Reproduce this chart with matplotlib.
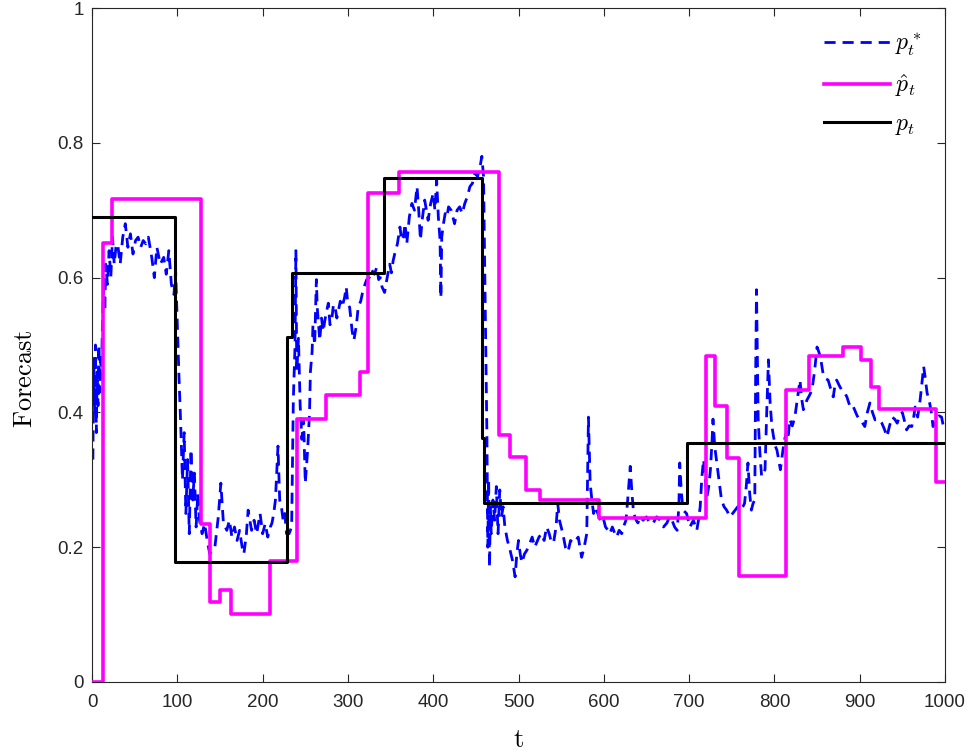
import matplotlib.pyplot as plt

plt.rcParams['font.family'] = ['Liberation Sans', 'DejaVu Sans']
plt.rcParams['mathtext.fontset'] = 'cm'

# p_t (true step signal): breakpoints and levels
true_t = [1, 97, 228, 235, 342, 457, 460, 697, 1000]
true_v = [0.690, 0.178, 0.512, 0.607, 0.748, 0.362, 0.265, 0.354, 0.354]

# p-hat_t (estimated step forecast)
hat_t = [1, 13, 23, 128, 138, 150, 163, 209, 240, 274, 314, 324, 360, 477, 490,
         509, 525, 594, 720, 730, 744, 759, 814, 841, 880, 902, 913, 923, 989, 1000]
hat_v = [0.0, 0.651, 0.716, 0.234, 0.119, 0.136, 0.101, 0.179, 0.390, 0.426, 0.460,
         0.725, 0.757, 0.366, 0.334, 0.285, 0.270, 0.243, 0.484, 0.409, 0.332, 0.157,
         0.433, 0.484, 0.497, 0.478, 0.438, 0.405, 0.297, 0.297]

# p*_t (noisy forecast)
star_t = [1, 2, 3, 4, 5, 6, 7, 8, 9, 10, 11, 12, 13, 14, 15, 16, 18, 20, 22, 24, 26, 28,
          30, 33, 36, 39, 42, 45, 48, 51, 54, 57, 60, 63, 66, 70, 73, 76, 80, 84, 87, 90,
          93, 96, 98, 100, 102, 104, 106, 108, 110, 112, 114, 116, 118, 120, 122, 124,
          126, 129, 132, 135, 138, 141, 144, 148, 151, 154, 158, 161, 164, 167, 170, 173,
          176, 178, 181, 183, 187, 190, 193, 197, 200, 203, 206, 209, 211, 213, 215, 218,
          220, 222, 224, 226, 228, 231, 234, 236, 238, 239, 240, 242, 244, 246, 248, 250,
          252, 253, 255, 256, 258, 259, 261, 263, 264, 267, 269, 271, 273, 275, 277, 279,
          281, 283, 285, 287, 289, 291, 293, 296, 298, 300, 302, 305, 307, 310, 312, 315,
          317, 320, 322, 325, 328, 331, 334, 336, 338, 340, 343, 346, 349, 351, 353, 355,
          358, 361, 363, 365, 367, 369, 372, 375, 378, 381, 383, 385, 387, 390, 392, 394,
          397, 400, 402, 404, 406, 408, 409, 410, 412, 414, 416, 418, 421, 423, 425, 428,
          431, 434, 437, 440, 443, 446, 449, 452, 455, 457, 459, 461, 463, 464, 465, 466,
          467, 468, 470, 472, 474, 476, 478, 480, 482, 484, 487, 490, 493, 496, 498, 500,
          502, 504, 507, 510, 513, 516, 519, 521, 524, 527, 530, 533, 536, 538, 541, 544,
          546, 548, 550, 552, 555, 558, 561, 564, 567, 570, 572, 574, 577, 580, 582, 584,
          586, 588, 590, 593, 596, 599, 602, 605, 607, 610, 613, 615, 618, 621, 623, 626,
          628, 631, 633, 635, 638, 640, 643, 646, 650, 654, 658, 662, 666, 670, 674, 677,
          680, 683, 686, 688, 689, 691, 693, 697, 701, 705, 709, 711, 713, 715, 717, 719,
          721, 723, 725, 727, 728, 730, 732, 734, 736, 738, 741, 744, 746, 748, 751, 754,
          757, 760, 763, 765, 767, 769, 771, 773, 775, 777, 778, 779, 780, 781, 783, 785,
          787, 789, 791, 793, 795, 797, 799, 801, 803, 805, 807, 810, 812, 814, 816, 818,
          821, 824, 827, 830, 832, 834, 836, 838, 841, 844, 847, 850, 852, 854, 857, 860,
          863, 866, 869, 871, 873, 876, 879, 882, 885, 887, 889, 892, 894, 897, 900, 903,
          906, 909, 912, 915, 918, 922, 926, 929, 932, 935, 938, 941, 944, 947, 950, 953,
          955, 958, 961, 963, 965, 968, 971, 973, 975, 977, 979, 982, 984, 986, 988, 990,
          993, 996, 998, 1000]
star_v = [0.33, 0.48, 0.40, 0.50, 0.37, 0.46, 0.41, 0.50, 0.43, 0.48, 0.45, 0.52, 0.57,
          0.60, 0.55, 0.62, 0.59, 0.64, 0.60, 0.66, 0.62, 0.645, 0.65, 0.62, 0.66, 0.68,
          0.645, 0.665, 0.635, 0.655, 0.66, 0.645, 0.655, 0.65, 0.66, 0.63, 0.60, 0.645,
          0.62, 0.63, 0.605, 0.64, 0.59, 0.575, 0.61, 0.53, 0.45, 0.38, 0.30, 0.37, 0.25,
          0.33, 0.22, 0.345, 0.27, 0.31, 0.23, 0.28, 0.24, 0.22, 0.235, 0.21, 0.19, 0.195,
          0.20, 0.245, 0.295, 0.236, 0.225, 0.24, 0.215, 0.23, 0.21, 0.225, 0.20, 0.19,
          0.22, 0.255, 0.225, 0.24, 0.22, 0.25, 0.22, 0.235, 0.215, 0.23, 0.236, 0.25,
          0.27, 0.35, 0.27, 0.26, 0.24, 0.25, 0.22, 0.22, 0.23, 0.42, 0.50, 0.64, 0.46,
          0.51, 0.41, 0.36, 0.39, 0.295, 0.33, 0.35, 0.40, 0.46, 0.49, 0.53, 0.50, 0.597,
          0.556, 0.507, 0.54, 0.52, 0.537, 0.55, 0.562, 0.53, 0.537, 0.56, 0.556, 0.54,
          0.552, 0.565, 0.556, 0.57, 0.586, 0.56, 0.556, 0.52, 0.507, 0.53, 0.556, 0.565,
          0.577, 0.59, 0.597, 0.60, 0.611, 0.605, 0.616, 0.597, 0.60, 0.586, 0.578, 0.60,
          0.62, 0.607, 0.625, 0.636, 0.65, 0.675, 0.655, 0.66, 0.68, 0.65, 0.69, 0.71,
          0.70, 0.735, 0.70, 0.656, 0.685, 0.715, 0.70, 0.685, 0.71, 0.725, 0.70, 0.745,
          0.69, 0.656, 0.57, 0.66, 0.68, 0.695, 0.69, 0.705, 0.70, 0.69, 0.68, 0.70,
          0.705, 0.695, 0.71, 0.72, 0.735, 0.74, 0.755, 0.75, 0.765, 0.78, 0.75, 0.55,
          0.36, 0.20, 0.30, 0.17, 0.26, 0.22, 0.27, 0.24, 0.29, 0.22, 0.285, 0.245, 0.26,
          0.23, 0.21, 0.196, 0.18, 0.156, 0.19, 0.21, 0.19, 0.177, 0.19, 0.196, 0.205,
          0.215, 0.20, 0.206, 0.215, 0.22, 0.21, 0.23, 0.22, 0.21, 0.206, 0.23, 0.265,
          0.24, 0.23, 0.22, 0.20, 0.193, 0.21, 0.206, 0.21, 0.215, 0.20, 0.185, 0.20,
          0.22, 0.393, 0.295, 0.27, 0.25, 0.26, 0.25, 0.24, 0.245, 0.23, 0.225, 0.22,
          0.23, 0.22, 0.215, 0.225, 0.22, 0.23, 0.24, 0.27, 0.32, 0.28, 0.25, 0.24,
          0.236, 0.245, 0.24, 0.245, 0.235, 0.236, 0.245, 0.24, 0.23, 0.236, 0.245, 0.24,
          0.23, 0.225, 0.26, 0.325, 0.28, 0.255, 0.25, 0.23, 0.24, 0.225, 0.24, 0.26,
          0.305, 0.33, 0.30, 0.275, 0.29, 0.315, 0.36, 0.39, 0.35, 0.33, 0.31, 0.29, 0.27,
          0.26, 0.255, 0.25, 0.245, 0.25, 0.255, 0.26, 0.255, 0.26, 0.265, 0.29, 0.325,
          0.28, 0.255, 0.265, 0.27, 0.45, 0.582, 0.48, 0.39, 0.34, 0.305, 0.31, 0.315,
          0.40, 0.478, 0.414, 0.38, 0.364, 0.35, 0.344, 0.33, 0.315, 0.344, 0.36, 0.37,
          0.36, 0.39, 0.38, 0.393, 0.42, 0.448, 0.42, 0.404, 0.41, 0.418, 0.425, 0.433,
          0.46, 0.497, 0.49, 0.482, 0.458, 0.45, 0.448, 0.435, 0.423, 0.44, 0.448, 0.44,
          0.433, 0.43, 0.423, 0.415, 0.408, 0.41, 0.404, 0.395, 0.389, 0.385, 0.379, 0.40,
          0.414, 0.40, 0.389, 0.39, 0.384, 0.375, 0.364, 0.38, 0.393, 0.39, 0.384, 0.395,
          0.40, 0.385, 0.374, 0.38, 0.379, 0.39, 0.408, 0.393, 0.42, 0.444, 0.468, 0.45,
          0.429, 0.414, 0.40, 0.379, 0.385, 0.389, 0.395, 0.393, 0.38, 0.385]

x_ticks = list(range(0, 1001, 100))
y_ticks = [0, 0.2, 0.4, 0.6, 0.8, 1]
y_tick_labels = ['0', '0.2', '0.4', '0.6', '0.8', '1']

fig = plt.figure(figsize=(9.72, 7.55), dpi=100)
ax = fig.add_axes([0.0947, 0.0967, 0.8775, 0.8927])

ax.plot(star_t, star_v, color='#0000FF', lw=2.0, ls=(0, (4, 2.5)), label=r'$p_t^*$', zorder=2)
ax.plot(hat_t, hat_v, color='#FF00FF', lw=2.6, drawstyle='steps-post', label=r'$\hat{p}_t$', zorder=3)
ax.plot(true_t, true_v, color='black', lw=2.2, drawstyle='steps-post', label=r'$p_t$', zorder=4)

ax.set_xlim(0, 1000)
ax.set_ylim(0, 1)
ax.set_xticks(x_ticks)
ax.set_yticks(y_ticks)
ax.set_yticklabels(y_tick_labels)
ax.tick_params(direction='in', length=6, width=0.8, labelsize=13.5, colors='#262626',
               top=True, right=True)
ax.tick_params(axis='x', pad=9)
ax.tick_params(axis='y', pad=6)
for s in ax.spines.values():
    s.set_color('#262626')
    s.set_linewidth(0.8)

ax.set_xlabel(r'$\mathrm{t}$', fontsize=19)
ax.set_ylabel(r'$\mathrm{Forecast}$', fontsize=19)
ax.xaxis.set_label_coords(0.5, -0.068)
ax.yaxis.set_label_coords(-0.064, 0.45)

ax.legend(loc='upper right', frameon=False, fontsize=17, handlelength=2.8,
          handletextpad=0.2, labelspacing=0.6, borderaxespad=0.6)

fig.savefig('out.png', dpi=100)
